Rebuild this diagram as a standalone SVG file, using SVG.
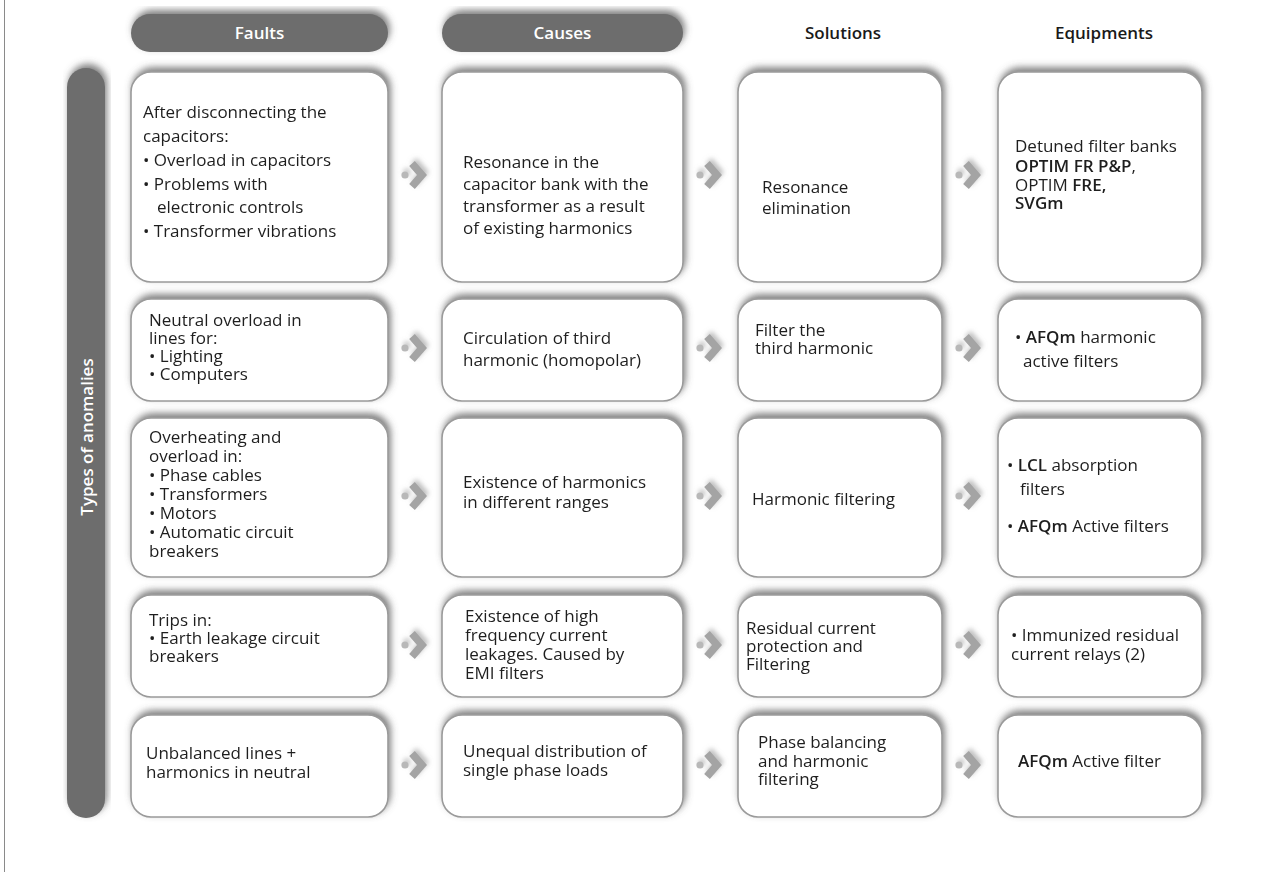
<svg xmlns="http://www.w3.org/2000/svg" width="1279" height="872" viewBox="0 0 1279 872">
<style>
.box{fill:#fff;stroke:#9a9a9a;stroke-width:1.6}
.pill{fill:#6d6d6d}
.t{font-family:"Open Sans","Liberation Sans",sans-serif;font-size:17px;fill:#1e1e1e}
.b{font-weight:600}
.h{font-family:"Open Sans","Liberation Sans",sans-serif;font-size:17px;font-weight:600;text-anchor:middle}
.chev{fill:none;stroke:#a4a4a4;stroke-width:7.5;stroke-linejoin:miter;stroke-miterlimit:6}
.dot{fill:#b8b8b8}
</style>
<defs>
<filter id="sh" x="-15%" y="-20%" width="130%" height="140%">
<feGaussianBlur in="SourceAlpha" stdDeviation="3.5"/>
<feOffset dx="2" dy="-4" result="o"/>
<feFlood flood-color="#555" flood-opacity="0.75"/>
<feComposite in2="o" operator="in"/>
<feMerge><feMergeNode/><feMergeNode in="SourceGraphic"/></feMerge>
</filter>
<filter id="ash" x="-60%" y="-60%" width="220%" height="220%">
<feGaussianBlur in="SourceAlpha" stdDeviation="2.5"/>
<feOffset dx="2" dy="-3" result="o"/>
<feFlood flood-color="#888" flood-opacity="0.55"/>
<feComposite in2="o" operator="in"/>
<feMerge><feMergeNode/><feMergeNode in="SourceGraphic"/></feMerge>
</filter>
<g id="arr">
<circle class="dot" cx="0" cy="0" r="3.6"/>
<polyline class="chev" points="7,-11.5 17,0 7,11.5"/>
</g>
</defs>
<rect width="1279" height="872" fill="#fff"/>
<line x1="4.5" y1="0" x2="4.5" y2="872" stroke="#8a8a8a" stroke-width="1"/>

<g id="headers">
<g id="h-faults" filter="url(#sh)"><rect class="pill" x="131" y="14" width="257" height="38" rx="19"/></g>
<text class="h" x="259.5" y="39" fill="#fff">Faults</text>
<g id="h-causes" filter="url(#sh)"><rect class="pill" x="442" y="14" width="241" height="38" rx="19"/></g>
<text class="h" x="562.5" y="39" fill="#fff">Causes</text>
<text id="h-solutions" class="h" x="843" y="39" fill="#1a1a1a">Solutions</text>
<text id="h-equipments" class="h" x="1104" y="39" fill="#1a1a1a">Equipments</text>
</g>

<g id="side">
<g filter="url(#sh)"><rect class="pill" x="67" y="68" width="38" height="750" rx="19"/></g>
<text class="h" transform="translate(93,437) rotate(-90)" fill="#fff">Types of anomalies</text>
</g>

<g id="connectors" filter="url(#ash)">
<use href="#arr" x="405" y="175"/>
<use href="#arr" x="700" y="175"/>
<use href="#arr" x="959" y="175"/>
<use href="#arr" x="405" y="348"/>
<use href="#arr" x="700" y="348"/>
<use href="#arr" x="959" y="348"/>
<use href="#arr" x="405" y="496"/>
<use href="#arr" x="700" y="496"/>
<use href="#arr" x="959" y="496"/>
<use href="#arr" x="405" y="645"/>
<use href="#arr" x="700" y="645"/>
<use href="#arr" x="959" y="645"/>
<use href="#arr" x="405" y="765"/>
<use href="#arr" x="700" y="765"/>
<use href="#arr" x="959" y="765"/>
</g>

<!-- Row 1 -->
<g id="f1"><g filter="url(#sh)"><rect class="box" x="131" y="72" width="257" height="210" rx="20"/></g>
<text class="t"><tspan x="143" y="118">After disconnecting the</tspan><tspan x="143" y="142">capacitors:</tspan><tspan x="143" y="166">• Overload in capacitors</tspan><tspan x="143" y="190">• Problems with</tspan><tspan x="157" y="213">electronic controls</tspan><tspan x="143" y="237">• Transformer vibrations</tspan></text></g>
<g id="c1"><g filter="url(#sh)"><rect class="box" x="442" y="72" width="241" height="210" rx="20"/></g>
<text class="t"><tspan x="463" y="168">Resonance in the</tspan><tspan x="463" y="190">capacitor bank with the</tspan><tspan x="463" y="212">transformer as a result</tspan><tspan x="463" y="234">of existing harmonics</tspan></text></g>
<g id="s1"><g filter="url(#sh)"><rect class="box" x="738" y="72" width="204" height="210" rx="20"/></g>
<text class="t"><tspan x="762" y="193">Resonance</tspan><tspan x="762" y="214">elimination</tspan></text></g>
<g id="e1"><g filter="url(#sh)"><rect class="box" x="998" y="72" width="204" height="210" rx="20"/></g>
<text class="t"><tspan x="1015" y="152">Detuned filter banks</tspan><tspan x="1015" y="172" class="b">OPTIM FR P&amp;P</tspan><tspan>,</tspan><tspan x="1015" y="191">OPTIM </tspan><tspan class="b">FRE,</tspan><tspan x="1015" y="209" class="b">SVGm</tspan></text></g>

<!-- Row 2 -->
<g id="f2"><g filter="url(#sh)"><rect class="box" x="131" y="299" width="257" height="102" rx="20"/></g>
<text class="t"><tspan x="149" y="326">Neutral overload in</tspan><tspan x="149" y="344">lines for:</tspan><tspan x="149" y="362">• Lighting</tspan><tspan x="149" y="380">• Computers</tspan></text></g>
<g id="c2"><g filter="url(#sh)"><rect class="box" x="442" y="299" width="241" height="102" rx="20"/></g>
<text class="t"><tspan x="463" y="344">Circulation of third</tspan><tspan x="463" y="366">harmonic (homopolar)</tspan></text></g>
<g id="s2"><g filter="url(#sh)"><rect class="box" x="738" y="299" width="204" height="102" rx="20"/></g>
<text class="t"><tspan x="755" y="336">Filter the</tspan><tspan x="755" y="354">third harmonic</tspan></text></g>
<g id="e2"><g filter="url(#sh)"><rect class="box" x="998" y="299" width="204" height="102" rx="20"/></g>
<text class="t"><tspan x="1015" y="343">• </tspan><tspan class="b">AFQm</tspan><tspan> harmonic</tspan><tspan x="1023" y="367">active filters</tspan></text></g>

<!-- Row 3 -->
<g id="f3"><g filter="url(#sh)"><rect class="box" x="131" y="418" width="257" height="159" rx="20"/></g>
<text class="t"><tspan x="149" y="443">Overheating and</tspan><tspan x="149" y="462">overload in:</tspan><tspan x="149" y="481">• Phase cables</tspan><tspan x="149" y="500">• Transformers</tspan><tspan x="149" y="519">• Motors</tspan><tspan x="149" y="538">• Automatic circuit</tspan><tspan x="149" y="557">breakers</tspan></text></g>
<g id="c3"><g filter="url(#sh)"><rect class="box" x="442" y="418" width="241" height="159" rx="20"/></g>
<text class="t"><tspan x="463" y="488">Existence of harmonics</tspan><tspan x="463" y="508">in different ranges</tspan></text></g>
<g id="s3"><g filter="url(#sh)"><rect class="box" x="738" y="418" width="204" height="159" rx="20"/></g>
<text class="t"><tspan x="752" y="505">Harmonic filtering</tspan></text></g>
<g id="e3"><g filter="url(#sh)"><rect class="box" x="998" y="418" width="204" height="159" rx="20"/></g>
<text class="t"><tspan x="1007" y="471">• </tspan><tspan class="b">LCL</tspan><tspan> absorption</tspan><tspan x="1020" y="495">filters</tspan><tspan x="1007" y="532">• </tspan><tspan class="b">AFQm</tspan><tspan> Active filters</tspan></text></g>

<!-- Row 4 -->
<g id="f4"><g filter="url(#sh)"><rect class="box" x="131" y="595" width="257" height="102" rx="20"/></g>
<text class="t"><tspan x="149" y="626">Trips in:</tspan><tspan x="149" y="644">• Earth leakage circuit</tspan><tspan x="149" y="662">breakers</tspan></text></g>
<g id="c4"><g filter="url(#sh)"><rect class="box" x="442" y="595" width="241" height="102" rx="20"/></g>
<text class="t"><tspan x="465" y="622">Existence of high</tspan><tspan x="465" y="641">frequency current</tspan><tspan x="465" y="660">leakages. Caused by</tspan><tspan x="465" y="679">EMI filters</tspan></text></g>
<g id="s4"><g filter="url(#sh)"><rect class="box" x="738" y="595" width="204" height="102" rx="20"/></g>
<text class="t"><tspan x="746" y="634">Residual current</tspan><tspan x="746" y="652">protection and</tspan><tspan x="746" y="670">Filtering</tspan></text></g>
<g id="e4"><g filter="url(#sh)"><rect class="box" x="998" y="595" width="204" height="102" rx="20"/></g>
<text class="t"><tspan x="1011" y="641">• Immunized residual</tspan><tspan x="1011" y="660">current relays (2)</tspan></text></g>

<!-- Row 5 -->
<g id="f5"><g filter="url(#sh)"><rect class="box" x="131" y="715" width="257" height="102" rx="20"/></g>
<text class="t"><tspan x="146" y="759">Unbalanced lines +</tspan><tspan x="146" y="778">harmonics in neutral</tspan></text></g>
<g id="c5"><g filter="url(#sh)"><rect class="box" x="442" y="715" width="241" height="102" rx="20"/></g>
<text class="t"><tspan x="463" y="757">Unequal distribution of</tspan><tspan x="463" y="776">single phase loads</tspan></text></g>
<g id="s5"><g filter="url(#sh)"><rect class="box" x="738" y="715" width="204" height="102" rx="20"/></g>
<text class="t"><tspan x="758" y="748">Phase balancing</tspan><tspan x="758" y="767">and harmonic</tspan><tspan x="758" y="785">filtering</tspan></text></g>
<g id="e5"><g filter="url(#sh)"><rect class="box" x="998" y="715" width="204" height="102" rx="20"/></g>
<text class="t"><tspan x="1018" y="767" class="b">AFQm</tspan><tspan> Active filter</tspan></text></g>
</svg>
